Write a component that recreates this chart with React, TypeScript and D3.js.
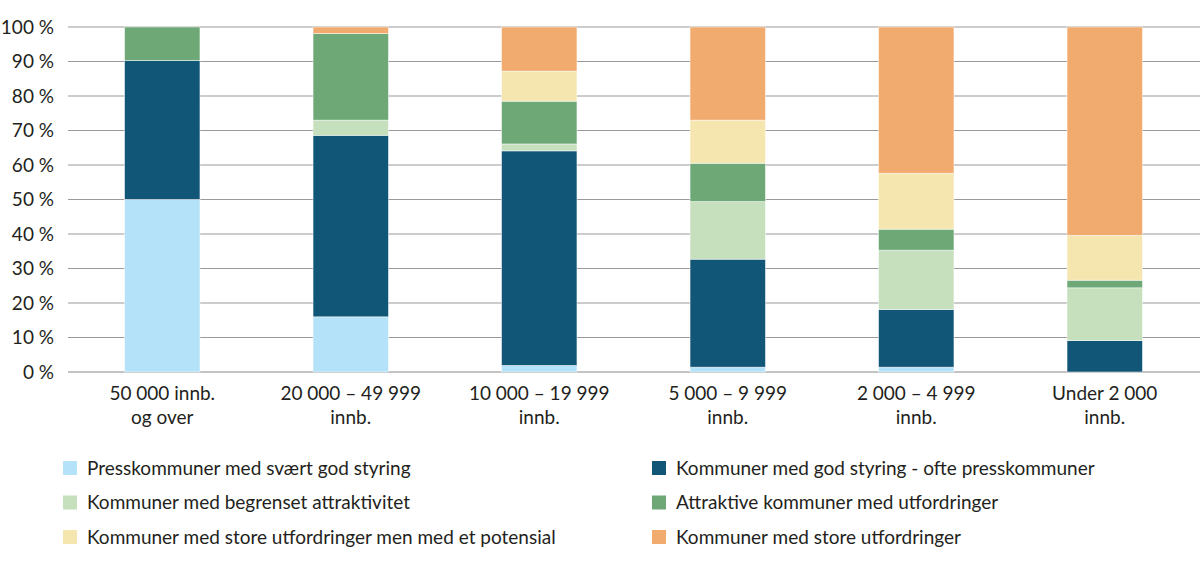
import * as d3 from "d3";

const categories = [
  ["50 000 innb.", "og over"],
  ["20 000 – 49 999", "innb."],
  ["10 000 – 19 999", "innb."],
  ["5 000 – 9 999", "innb."],
  ["2 000 – 4 999", "innb."],
  ["Under 2 000", "innb."],
];

const seriesNames = [
  "Presskommuner med svært god styring",
  "Kommuner med god styring - ofte presskommuner",
  "Kommuner med begrenset attraktivitet",
  "Attraktive kommuner med utfordringer",
  "Kommuner med store utfordringer men med et potensial",
  "Kommuner med store utfordringer",
];

const presskommuner = [50, 16, 1.9, 1.4, 1.4, 0];
const godStyring = [40.3, 52.6, 62.2, 31.3, 16.7, 9.1];
const begrenset = [0, 4.4, 2.0, 16.7, 17.2, 15.3];
const attraktive = [9.7, 25.1, 12.4, 11.1, 6.1, 2.2];
const potensial = [0, 0, 8.7, 12.5, 16.2, 13.0];
const storeUtfordringer = [0, 1.9, 12.8, 27.0, 42.4, 60.4];

const colors = ["#b4e2f8", "#115577", "#c6dfbd", "#6da876", "#f5e6b0", "#f1ab6e"];
const yTicks = [0, 10, 20, 30, 40, 50, 60, 70, 80, 90, 100];

const font = "Lato, sans-serif";
const fs = 19;

export default function App() {
  const width = 1200;
  const height = 564;
  const left = 68;
  const top = 27;
  const bottom = 372;

  const allSeries = [presskommuner, godStyring, begrenset, attraktive, potensial, storeUtfordringer];
  const keys = seriesNames.map((_, i) => "s" + i);
  const rows = categories.map((c, i) => {
    const r: any = { cat: c.join(" ") };
    allSeries.forEach((s, j) => (r[keys[j]] = s[i]));
    return r;
  });
  const stacked = d3.stack().keys(keys)(rows);

  const x = d3.scaleBand().domain(rows.map(r => r.cat)).range([left, 1199]).paddingInner(0.6).paddingOuter(0.3);
  const y = d3.scaleLinear().domain([0, 100]).range([bottom, top]);

  return (
    <svg width={width} height={height} style={{ position: "absolute", left: 0, top: 0 }}>
      <rect width={width} height={height} fill="#fff" />
      {yTicks.map(t => (
        <g key={t}>
          <line x1={left} x2={width} y1={y(t)} y2={y(t)} stroke={t === 0 ? "#888" : "#9a9a9a"} strokeWidth={1.2} />
          <text x={54} y={y(t)} dy="0.35em" textAnchor="end" fontFamily={font} fontSize={fs} fill="#231f20">
            {t} %
          </text>
        </g>
      ))}
      {stacked.map((s, j) => (
        <g key={j} fill={colors[j]}>
          {s.map((d, i) =>
            d[1] - d[0] > 0 ? (
              <rect
                key={i}
                x={x(rows[i].cat)}
                width={x.bandwidth()}
                y={y(d[1])}
                height={y(d[0]) - y(d[1])}
                stroke="#fff"
                strokeOpacity={0.6}
                strokeWidth={0.8}
              />
            ) : null
          )}
        </g>
      ))}
      {categories.map((c, i) => (
        <text key={i} textAnchor="middle" fontFamily={font} fontSize={fs} fill="#231f20">
          {c.map((l, k) => (
            <tspan key={k} x={(x(rows[i].cat) || 0) + x.bandwidth() / 2} y={400 + k * 24}>
              {l}
            </tspan>
          ))}
        </text>
      ))}
      {seriesNames.map((n, j) => {
        const col = j % 2;
        const row = Math.floor(j / 2);
        const lx = col === 0 ? 63 : 652;
        const ly = 468 + row * 34.5;
        return (
          <g key={j}>
            <rect x={lx} y={ly - 7} width={14} height={14} fill={colors[j]} />
            <text x={lx + 24} y={ly} dy="0.35em" fontFamily={font} fontSize={fs} fill="#231f20">
              {n}
            </text>
          </g>
        );
      })}
    </svg>
  );
}
